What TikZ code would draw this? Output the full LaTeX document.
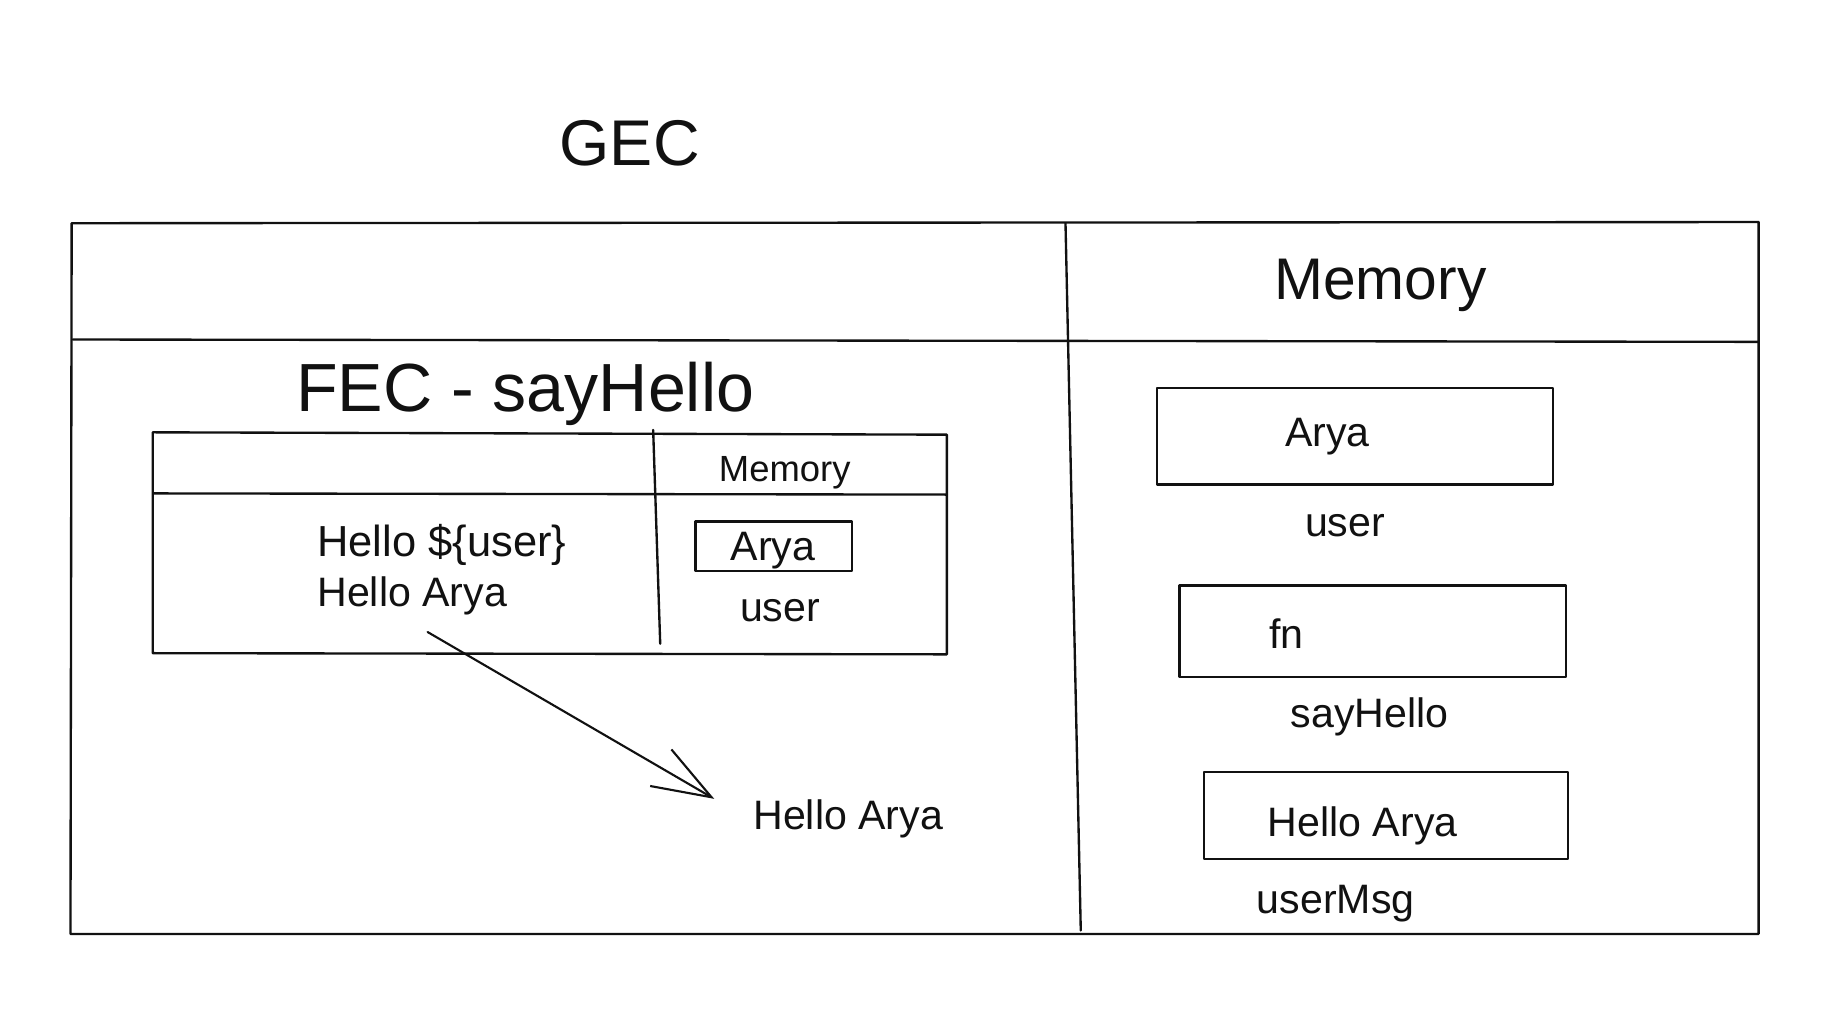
\documentclass[tikz,border=0pt]{standalone}
\usepackage{fontspec}
\setmainfont{Liberation Sans}
\usetikzlibrary{arrows.meta}
\definecolor{ink}{HTML}{111111}
\begin{document}
\begin{tikzpicture}[x=1pt, y=-1pt, line cap=round, line join=round,
  sketch/.style={draw=ink, line width=2pt},
  cell/.style={draw=ink, line width=2pt, rectangle, inner sep=0pt},
  lbl/.style={anchor=base, inner sep=0pt, text=ink, font=\fontsize{35}{40}\selectfont},
  lblleft/.style={lbl, anchor=base west},
  title/.style={lbl, font=\fontsize{55}{60}\selectfont},
  head/.style={lbl, font=\fontsize{50}{56}\selectfont},
  smallhead/.style={lbl, font=\fontsize{31}{36}\selectfont},
  flow/.style={draw=ink, line width=1.8pt,
    -{Straight Barb[length=50pt, width=36pt, line width=1.8pt]}}]

% page area
\useasboundingbox (0,0) rectangle (1568,873.4);
\fill[white] (0,0) rectangle (1568,873.4);

% global execution context frame
\node[title] (gec) at (536,141) {GEC};
\draw[sketch] (61,190) -- (1497,189) -- (1497,795) -- (60,795) -- cycle;
\draw[sketch] (62,289) -- (1497,291);
\draw[sketch] (907,190) -- (920,792);
\node[head] (gmem) at (1175,255) {Memory};

% function execution context
\node[title, font=\fontsize{58}{64}\selectfont] (fec) at (447,350) {FEC - sayHello};
\draw[sketch] (130,368) -- (806,370) -- (806,557) -- (130,556) -- cycle;
\draw[sketch] (131,420) -- (806,421);
\draw[sketch] (556,366) -- (562,548);
\node[smallhead] (fmem) at (668,410) {Memory};
\node[lblleft, font=\fontsize{37}{42}\selectfont] (tmpl) at (270,474) {Hello \$\{user\}};
\node[lblleft] (res) at (270,516) {Hello Arya};
\node[cell, minimum width=133, minimum height=42] (fuser) at (658.5,465) {};
\node[lbl] (fuserv) at (658,477) {Arya};
\node[lbl] (fusern) at (664,529) {user};

% returned value
\coordinate (retfrom) at (364,538);
\node[lbl] (ret) at (722,706) {Hello Arya};
\coordinate (retto) at (608,680);
\draw[flow] (retfrom) -- (retto);

% global memory slots
\node[cell, minimum width=337, minimum height=82] (guser) at (1153.5,371.5) {};
\node[lbl] (guserv) at (1130,380) {Arya};
\node[lbl] (gusern) at (1145,457) {user};

\node[cell, minimum width=329, minimum height=78] (gfn) at (1168.5,537.5) {};
\node[lbl] (gfnv) at (1095,552) {fn};
\node[lbl] (gfnn) at (1166,619) {sayHello};

\node[cell, minimum width=310, minimum height=74] (gmsg) at (1180,694) {};
\node[lbl] (gmsgv) at (1160,712) {Hello Arya};
\node[lbl] (gmsgn) at (1137,778) {userMsg};

\end{tikzpicture}
\end{document}
